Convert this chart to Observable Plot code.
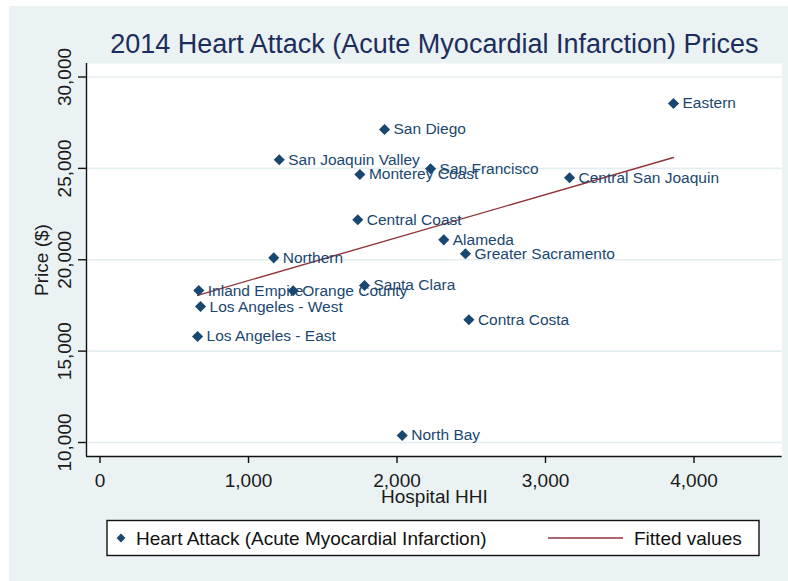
<!DOCTYPE html>
<html>
<head>
<meta charset="utf-8">
<script src="https://cdn.jsdelivr.net/npm/d3@7"></script>
<script src="https://cdn.jsdelivr.net/npm/@observablehq/plot@0.6"></script>
<style>
  html, body { margin: 0; padding: 0; background: #ffffff; }
  #wrap { position: relative; width: 788px; height: 581px; background: #ffffff; overflow: hidden; }
  #bg { position: absolute; left: 9px; top: 6px; right: 0; bottom: 0; background: #eaf2f3; }
  #chart { position: absolute; left: 0; top: 0; }
  svg { font-family: "Liberation Sans", Arial, sans-serif; }
</style>
</head>
<body>
<div id="wrap"><div id="bg"></div><div id="chart"></div></div>
<script>
const regions = ["Eastern", "San Diego", "San Joaquin Valley", "San Francisco", "Monterey Coast",
  "Central San Joaquin", "Central Coast", "Alameda", "Greater Sacramento", "Northern",
  "Inland Empire", "Orange County", "Santa Clara", "Los Angeles - West", "Contra Costa",
  "Los Angeles - East", "North Bay"];
const hhi = [3862, 1916, 1207, 2226, 1750, 3162, 1736, 2315, 2461, 1170, 665, 1301, 1781, 677, 2484, 657, 2035];
const price = [28550, 27127, 25470, 24980, 24665, 24485, 22185, 21090, 20325, 20105, 18315, 18300, 18590, 17440, 16715, 15800, 10385];
const xTicks = [0, 1000, 2000, 3000, 4000];
const yTicks = [10000, 15000, 20000, 25000, 30000];
const xDomain = [-91, 4594];
const yDomain = [9234, 30739];
const titleText = "2014 Heart Attack (Acute Myocardial Infarction) Prices";
const xLabel = "Hospital HHI";
const yLabel = "Price ($)";
const legendLabels = ["Heart Attack (Acute Myocardial Infarction)", "Fitted values"];

const data = regions.map((r, i) => ({region: r, hhi: hhi[i], price: price[i]}));
const navy = "#1a476f";
const maroon = "#90353b";
const fmt = d3.format(",");

const plot = Plot.plot({
  width: 788,
  height: 581,
  marginLeft: 86,
  marginRight: 6.3,
  marginTop: 63,
  marginBottom: 125,
  style: {background: "transparent", fontFamily: "Liberation Sans, Arial, sans-serif"},
  x: {domain: xDomain, axis: null},
  y: {domain: yDomain, axis: null},
  marks: [
    Plot.frame({fill: "white", stroke: "none"}),
    Plot.gridY(yTicks, {stroke: "#e4eef0", strokeOpacity: 1, strokeWidth: 1.6}),
    Plot.ruleX([xDomain[0]], {stroke: "#111", strokeWidth: 1.4}),
    Plot.ruleY([yDomain[0]], {stroke: "#111", strokeWidth: 1.4}),
    Plot.axisY({ticks: yTicks, tickSize: 8, tickFormat: () => "", label: null, stroke: "#111", strokeWidth: 1.4}),
    Plot.text(yTicks, {y: d => d, text: d => fmt(d), frameAnchor: "left", dx: -16, rotate: -90,
      textAnchor: "middle", lineAnchor: "bottom", fontSize: 19, fill: "#1a1a1a"}),
    Plot.axisX({ticks: xTicks, tickSize: 7, tickPadding: 10, tickFormat: fmt, fontSize: 19,
      stroke: "#111", strokeWidth: 1.4, fill: "#1a1a1a", label: null}),
    Plot.linearRegressionY(data, {x: "hhi", y: "price", stroke: maroon, strokeWidth: 1.4, ci: 0}),
    Plot.dot(data, {x: "hhi", y: "price", symbol: "diamond2", r: 5, fill: navy, stroke: "none"}),
    Plot.text(data, {x: "hhi", y: "price", text: "region", dx: 9, textAnchor: "start",
      lineAnchor: "middle", fontSize: 15.5, fill: navy, ariaLabel: "point-labels"}),
    Plot.text([titleText], {frameAnchor: "top", dy: -11, lineAnchor: "bottom", fontSize: 27, fill: "#1c2e5c"}),
    Plot.text([xLabel], {frameAnchor: "bottom", dy: 46, lineAnchor: "bottom", fontSize: 19, fill: "#1a1a1a"}),
    Plot.text([yLabel], {frameAnchor: "left", dx: -39, rotate: -90, textAnchor: "middle",
      lineAnchor: "bottom", fontSize: 19, fill: "#1a1a1a"})
  ]
});

const svg = d3.select(plot);
svg.selectAll('g[aria-label="point-labels"] text').style("letter-spacing", "0.9px");

// Legend
const lg = svg.append("g").attr("class", "legend").attr("text-anchor", "start");
lg.append("rect").attr("x", 107).attr("y", 520.5).attr("width", 652).attr("height", 35)
  .attr("fill", "white").attr("stroke", "#111").attr("stroke-width", 1.4);
lg.append("path").attr("d", d3.symbol(d3.symbolDiamond2, 50)())
  .attr("transform", "translate(121,538)").attr("fill", navy);
lg.append("text").attr("x", 136).attr("y", 545).attr("font-size", 19).attr("fill", "#111")
  .attr("text-anchor", "start").text(legendLabels[0]);
lg.append("line").attr("x1", 548).attr("x2", 623).attr("y1", 538).attr("y2", 538)
  .attr("stroke", maroon).attr("stroke-width", 1.4);
lg.append("text").attr("x", 634).attr("y", 545).attr("font-size", 19).attr("fill", "#111")
  .attr("text-anchor", "start").text(legendLabels[1]);

document.getElementById("chart").appendChild(plot);
</script>
</body>
</html>
